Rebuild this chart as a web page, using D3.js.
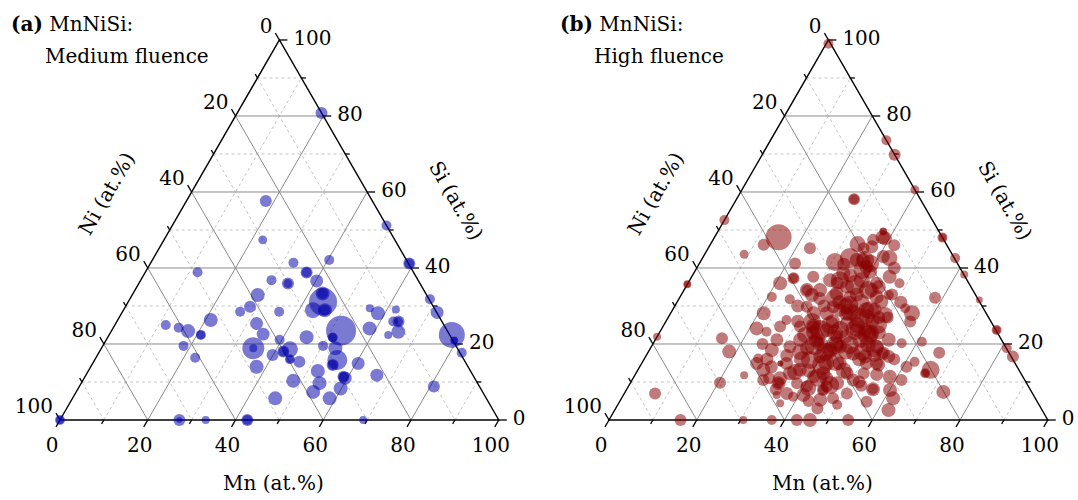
<!DOCTYPE html>
<html>
<head>
<meta charset="utf-8">
<script src="https://cdn.jsdelivr.net/npm/d3@7/dist/d3.min.js"></script>
<style>
    body { margin: 0; background: #fff; }
    text { font-family: "DejaVu Serif", serif; font-size: 20px; fill: #000; }
</style>
</head>
<body>
<svg id="chart" width="1078" height="500"></svg>
<script>
// tick values (at.%)
var majorTicks = [0, 20, 40, 60, 80, 100];
var minorTicks = [10, 30, 50, 70, 90];
var gridMajor = [20, 40, 60, 80];
var gridMinor = [10, 30, 50, 70, 90];

var panelLetters = ["(a)", "(b)"];
var panelNames = ["MnNiSi:", "MnNiSi:"];
var panelSubtitles = ["Medium fluence", "High fluence"];

// clusters: [Mn, Si, size]  (Ni = 100 - Mn - Si)
var mediumPoints = [
    [0, 0, 25], [0, 0, 16], [22.5, 47.4, 20], [32.5, 41.4, 25], [40.3, 42.1, 25],
    [36.8, 38.8, 36], [36.8, 38.8, 25], [11.9, 38.9, 25], [29.8, 36.8, 25],
    [34.0, 35.9, 36], [34.0, 35.9, 20], [40.2, 36.6, 42], [43.2, 33.3, 49], [43.2, 33.3, 30],
    [44.4, 31.1, 196], [43.2, 28.9, 64], [45.9, 28.9, 49], [45.9, 28.9, 30], [52.3, 23.5, 225],
    [28.6, 32.9, 49], [28.4, 29.8, 36], [26.8, 28.5, 25], [35.7, 28.5, 25], [32.1, 25.4, 42],
    [35.0, 22.6, 42], [21.2, 26.3, 49], [11.6, 25.0, 25], [14.9, 24.3, 25], [17.5, 23.4, 49],
    [20.9, 22.4, 25], [20.9, 22.4, 20], [18.4, 19.5, 25], [22.6, 16.4, 25],
    [34.6, 18.9, 121], [34.6, 18.9, 16], [39.5, 21.1, 25], [43.1, 18.6, 64],
    [41.9, 18.0, 36], [41.9, 18.0, 25], [39.9, 17.1, 36], [44.4, 16.0, 25], [44.4, 16.0, 16],
    [46.9, 15.3, 36], [37.8, 14.0, 49], [45.3, 21.8, 49], [50.2, 19.5, 25],
    [51.3, 21.7, 25], [51.3, 21.7, 20], [53.3, 18.9, 49], [55.3, 15.8, 100],
    [54.9, 14.5, 36], [54.9, 14.5, 25], [52.3, 12.9, 49], [48.0, 10.3, 49], [54.3, 9.7, 49],
    [54.0, 7.4, 49], [58.9, 11.4, 36], [58.9, 11.4, 25], [59.8, 8.3, 49], [58.6, 5.7, 49],
    [46.2, 5.7, 49], [27.2, 0, 36], [27.2, 0, 9], [33.2, 0, 16], [42.7, 0, 36], [42.7, 0, 25],
    [59.0, 41.2, 36], [59.0, 41.2, 25], [55.9, 29.4, 16], [58.4, 28.1, 49], [58.5, 24.1, 49],
    [62.0, 29.1, 16], [63.0, 25.9, 25], [64.2, 25.9, 36], [64.2, 25.9, 20], [65.5, 23.2, 49],
    [63.6, 22.4, 16], [68.4, 31.8, 25], [71.8, 28.3, 42], [78.1, 22.4, 169],
    [79.4, 20.9, 16], [79.4, 20.9, 12], [82.7, 17.7, 25], [60.5, 14.9, 42], [66.3, 11.8, 42],
    [59.5, 11.0, 42], [80.8, 8.8, 36], [69.1, 0, 16], [19.2, 80.8, 36], [18.1, 57.6, 36],
    [48.8, 51.2, 25]
];

var highPoints = [
    [0.5, 99, 25], [26.4, 73.6, 25], [30.2, 69.8, 36], [39.4, 60.6, 20],
    [26.8, 58.1, 36], [26.8, 58.1, 25], [0, 52.6, 25], [14.6, 48.1, 169], [12.2, 46.1, 36],
    [52.0, 48.0, 25], [52.0, 48.0, 16], [38.3, 48.1, 49], [37.7, 49.6, 16], [37.7, 49.6, 12],
    [36.5, 47.4, 36], [23.2, 45.2, 36], [35.4, 45.2, 36], [0, 35.7, 16], [0, 35.7, 12],
    [0, 21.9, 16], [7.0, 7.0, 36], [16.3, 0, 36], [9.0, 43.6, 20], [21.8, 41.2, 36],
    [23.4, 37.3, 36], [23.4, 37.3, 25], [21.0, 36.0, 49], [20.9, 32.4, 25], [25.3, 31.8, 25],
    [28.0, 34.2, 49], [28.0, 34.2, 30], [29.8, 32.9, 49], [21.2, 28.1, 49], [21.6, 24.1, 49],
    [24.3, 23.2, 25], [27.3, 26.3, 25], [26.7, 24.6, 36], [15.0, 21.5, 36], [18.4, 18.0, 49],
    [25.9, 16.2, 25], [27.9, 18.4, 49], [31.6, 14.9, 9], [31.6, 14.9, 9], [28.6, 13.2, 49],
    [24.9, 11.8, 16], [20.4, 9.8, 36], [33.5, 11.0, 49], [33.8, 9.7, 49], [33.8, 9.7, 30],
    [34.9, 6.6, 16], [35.1, 12.3, 49], [41.0, 6.6, 49], [45.5, 5.3, 49], [44.8, 7.9, 36],
    [44.8, 7.9, 25], [50.7, 7.0, 36], [56.3, 4.8, 36], [56.1, 8.1, 49], [56.1, 8.1, 30],
    [30.6, 0, 16], [37.1, 0, 25], [42.8, 0, 36], [45.8, 0, 49], [54.5, 0, 36],
    [57.6, 42.6, 25], [61.8, 38.3, 16], [68.6, 31.6, 12], [76.5, 23.7, 25], [76.5, 23.7, 16],
    [81.2, 18.9, 25], [83.7, 16.7, 36], [58.2, 32.2, 36], [66.4, 17.7, 36], [72.5, 7.4, 49],
    [66.7, 13.2, 81], [55.0, 28.1, 64], [55.7, 25.9, 36], [52.8, 29.4, 25], [61.0, 20.6, 25],
    [56.6, 20.2, 25], [62.0, 15.3, 25], [65.9, 12.3, 25], [65.9, 12.3, 16], [60.8, 14.0, 36],
    [61.4, 10.5, 36], [58.3, 11.4, 49], [60.1, 7.9, 49], [61.9, 5.7, 49], [62.4, 2.6, 49],
    [42.6, 42.6, 64], [45.1, 37.7, 49], [48.2, 36.0, 25], [47.3, 32.9, 25], [46.5, 31.1, 49],
    [38.9, 41.2, 81], [39.0, 47.8, 49], [53.2, 21.1, 49], [53.7, 17.5, 49], [53.7, 17.5, 30],
    [55.4, 16.7, 42], [54.2, 14.5, 42], [42.8, 34.2, 49], [44.2, 28.9, 64], [48.1, 22.8, 81],
    [48.1, 22.8, 40], [50.0, 16.7, 49],
    [34.3, 24.6, 64], [34.3, 24.6, 40], [36.8, 21.1, 64], [36.8, 21.1, 40], [35.7, 18.9, 49],
    [37.8, 23.7, 49], [40.9, 21.9, 42], [41.5, 25.4, 49], [39.8, 16.7, 49], [41.2, 18.4, 64],
    [41.2, 18.4, 40], [45.1, 14.9, 49], [46.9, 17.5, 49], [46.7, 21.1, 64], [46.5, 23.7, 49],
    [41.7, 28.1, 64], [45.1, 27.2, 64], [39.2, 36.8, 64], [34.1, 38.6, 49], [35.2, 33.3, 49],
    [38.7, 32.4, 42], [38.5, 40.3, 49], [35.4, 42.1, 49], [37.1, 45.6, 42], [36.2, 29.8, 42],
    [32.6, 28.1, 49], [42.7, 12.3, 49], [38.0, 9.7, 36], [36.9, 13.2, 49], [47.1, 9.7, 49],
    [50.4, 10.5, 42], [51.9, 12.3, 36], [53.5, 14.9, 42], [51.4, 19.3, 49], [35.6, 28.1, 49],
    [38.1, 28.9, 42], [44.8, 32.4, 49], [43.0, 36.0, 42], [36.7, 35.1, 49], [32.0, 36.8, 49],
    [31.0, 34.2, 49], [27.7, 37.7, 36], [30.2, 29.8, 36], [33.0, 21.1, 49], [31.6, 19.3, 42],
    [33.0, 14.9, 42], [40.9, 11.4, 42], [40.7, 8.8, 36], [45.2, 8.8, 36], [48.1, 12.3, 42],
    [51.2, 14.9, 42], [44.6, 23.7, 49], [43.0, 19.3, 49], [31.2, 24.6, 36], [38.9, 6.1, 25],
    [48.2, 5.7, 36], [27.7, 21.1, 42], [26.2, 14.9, 42], [36.8, 4.4, 16], [29.9, 10.5, 36],
    [38, 26, 49], [40, 23, 64], [42, 20, 49], [44, 25, 64], [47, 26, 49], [49, 20, 64],
    [50, 23, 49], [38, 20, 49], [36, 16, 64], [39, 13, 49], [42, 15, 64], [44, 11, 49],
    [47, 13, 64], [49, 16, 49], [52, 17, 42], [52, 10, 42], [45, 18, 64], [43, 22, 49],
    [40, 28, 49], [37, 31, 49], [34, 30, 42], [40, 33, 49], [42, 31, 64], [36, 38, 49],
    [33, 41, 42], [40, 39, 49], [41, 43, 42], [37, 42, 49], [34, 36, 42], [44, 35, 49],
    [39, 30, 64], [46, 29, 49], [48, 27, 42], [35, 23, 49], [32, 17, 42], [30, 14, 42],
    [34, 8, 36], [37, 7, 42], [43, 5, 36], [46, 3, 36], [50, 4, 25], [53, 9, 36],
    [55, 12, 42], [57, 16, 36], [50, 27, 36], [51, 31, 42], [48, 33, 36], [45, 40, 42],
    [42, 46, 36], [32, 32, 42], [30, 26, 42], [28, 30, 42], [25, 20, 36], [28, 16, 42],
    [31, 11, 36],
    [33.4, 25.8, 81], [36.3, 23.7, 100], [37.9, 25.0, 81], [37.0, 19.7, 100], [40.3, 17.9, 81],
    [41.6, 19.7, 81], [37.9, 15.8, 81], [41.3, 14.5, 100], [43.9, 15.3, 81], [40.8, 23.7, 81],
    [33.5, 22.4, 64], [34.6, 17.9, 64], [42.1, 11.1, 81], [45.8, 9.2, 81], [41.2, 8.4, 64],
    [36.1, 12.6, 64], [40.7, 28.4, 81], [43.8, 26.8, 100], [45.0, 28.9, 81], [44.3, 23.7, 100],
    [47.8, 22.4, 100], [48.8, 25.0, 81], [45.0, 19.7, 81], [48.8, 17.9, 81], [51.1, 18.9, 81],
    [49.1, 27.6, 64], [30.7, 41.6, 81], [33.6, 42.6, 100], [38.0, 39.5, 81], [34.2, 36.8, 81],
    [38.3, 35.5, 100], [41.9, 34.2, 81], [35.4, 32.1, 81], [39.6, 30.3, 81], [37.3, 42.1, 81],
    [33.5, 46.3, 64]
];

var svg = d3.select("#chart");

var side = 438.8,
    height = side * Math.sqrt(3) / 2,
    cos60 = 0.5,
    sin60 = Math.sqrt(3) / 2;

var rScale = d3.scaleSqrt().domain([0, 256]).range([0, 16]);

var drawTernary = function (x0, y0, points, color, idx) {

    // horizontal position uses Mn + Si/2, vertical uses Si
    var xs = d3.scaleLinear().domain([0, 100]).range([x0, x0 + side]);
    var ys = d3.scaleLinear().domain([0, 100]).range([y0, y0 - height]);

    function pt(mn, si) {
        return [xs(mn + si / 2), ys(si)];
    }

    var g = svg.append("g");

    // grid lines in the three directions
    function gridLines(values, cls) {
        var segs = [];
        values.forEach(function (v) {
            segs.push([pt(0, v), pt(100 - v, v)]);          // Si = v
            segs.push([pt(v, 0), pt(v, 100 - v)]);          // Mn = v
            segs.push([pt(0, 100 - v), pt(100 - v, 0)]);    // Ni = v
        });
        g.append("g")
            .attr("class", cls)
            .selectAll("line")
            .data(segs)
            .enter().append("line")
            .attr("x1", function (d) { return d[0][0]; })
            .attr("y1", function (d) { return d[0][1]; })
            .attr("x2", function (d) { return d[1][0]; })
            .attr("y2", function (d) { return d[1][1]; })
            .style("stroke", cls == "major" ? "#8a8a8a" : "#c4c4c4")
            .style("stroke-width", 1)
            .style("stroke-dasharray", cls == "major" ? null : "3,3");
    }
    gridLines(gridMinor, "minor");
    gridLines(gridMajor, "major");

    // outline
    var corners = [pt(0, 0), pt(100, 0), pt(0, 100)];
    g.append("path")
        .attr("d", d3.line()(corners) + "Z")
        .style("fill", "none")
        .style("stroke", "#000")
        .style("stroke-width", 1.4);

    // ticks: bottom = Mn, right = Si, left = Ni
    var axes = [
        {pos: function (v) { return pt(v, 0); }, dir: [-cos60, sin60]},
        {pos: function (v) { return pt(100 - v, v); }, dir: [1, 0]},
        {pos: function (v) { return pt(0, 100 - v); }, dir: [-cos60, -sin60]}
    ];

    axes.forEach(function (ax, k) {
        var ticks = majorTicks.map(function (v) { return {v: v, len: 8}; })
            .concat(minorTicks.map(function (v) { return {v: v, len: 4.5}; }));
        g.append("g").selectAll("line")
            .data(ticks)
            .enter().append("line")
            .attr("x1", function (d) { return ax.pos(d.v)[0]; })
            .attr("y1", function (d) { return ax.pos(d.v)[1]; })
            .attr("x2", function (d) { return ax.pos(d.v)[0] + ax.dir[0] * d.len; })
            .attr("y2", function (d) { return ax.pos(d.v)[1] + ax.dir[1] * d.len; })
            .style("stroke", "#000")
            .style("stroke-width", 1.3);

        g.append("g").selectAll("text")
            .data(majorTicks)
            .enter().append("text")
            .attr("x", function (v) {
                var p = ax.pos(v);
                var ex = p[0] + ax.dir[0] * 8;
                return k == 0 ? ex - 4 : (k == 1 ? ex + 6 : ex - 3);
            })
            .attr("y", function (v) {
                var p = ax.pos(v);
                var ey = p[1] + ax.dir[1] * 8;
                return k == 0 ? ey + 25 : (k == 1 ? ey + 5 : ey);
            })
            .style("text-anchor", k == 0 ? "middle" : (k == 1 ? "start" : "end"))
            .text(function (v) { return v; });
    });

    // axis titles
    var midB = pt(50, 0), midL = pt(0, 50), midR = pt(50, 50);
    g.append("text")
        .attr("transform", "translate(" + (midB[0] - 6) + "," + (y0 + 70) + ")")
        .style("text-anchor", "middle")
        .text("Mn (at.%)");
    g.append("text")
        .attr("transform", "translate(" + (midL[0] - 73 * sin60) + "," + (midL[1] - 73 * cos60) + ") rotate(-60)")
        .attr("dy", "0.35em")
        .style("text-anchor", "middle")
        .text("Ni (at.%)");
    g.append("text")
        .attr("transform", "translate(" + (midR[0] + 73 * sin60 + 4) + "," + (midR[1] - 73 * cos60 + 7) + ") rotate(60)")
        .attr("dy", "0.35em")
        .style("text-anchor", "middle")
        .text("Si (at.%)");

    // panel title
    var title = g.append("text")
        .attr("x", x0 - 49)
        .attr("y", 31);
    title.append("tspan").style("font-weight", "bold").text(panelLetters[idx]);
    title.append("tspan").text(" " + panelNames[idx]);
    g.append("text")
        .attr("x", x0 - 15)
        .attr("y", 63)
        .text(panelSubtitles[idx]);

    // clusters
    g.append("g")
        .attr("class", "clusters")
        .selectAll("circle")
        .data(points)
        .enter().append("circle")
        .attr("cx", function (d) { return pt(d[0], d[1])[0]; })
        .attr("cy", function (d) { return pt(d[0], d[1])[1]; })
        .attr("r", function (d) { return rScale(d[2]); })
        .style("fill", color)
        .style("fill-opacity", 0.52)
        .style("stroke", "none");
};

drawTernary(60, 420, mediumPoints, "#0000a8", 0);
drawTernary(609, 420, highPoints, "#880000", 1);
</script>
</body>
</html>
